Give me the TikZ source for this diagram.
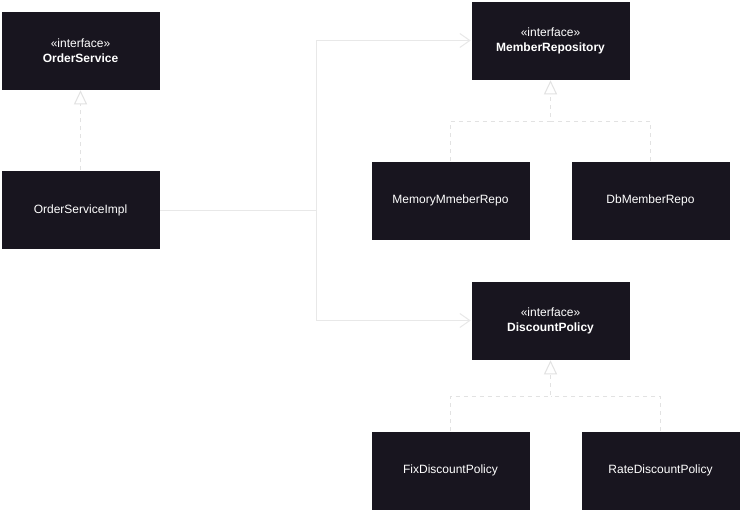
\documentclass[tikz,border=0pt]{standalone}
\usepackage{fontspec}
\setmainfont{Liberation Sans}
\usepackage{tikz}
\usetikzlibrary{arrows.meta, positioning}
\definecolor{UMLBoxDark}{RGB}{24, 21, 31}
\definecolor{UMLLine}{RGB}{232, 232, 232}
\definecolor{UMLDash}{RGB}{226, 226, 226}

\begin{document}
\begin{tikzpicture}[x=1pt,y=-1pt,
    classbox/.style={fill=UMLBoxDark, draw=white, line width=0.6pt, minimum width=159pt,
      minimum height=79pt, inner sep=0pt, text=white, align=center,
      font=\fontsize{12}{15}\selectfont},
    assoc/.style={UMLLine, line width=1pt, -{Straight Barb[length=10pt,width=14pt]}},
    realize/.style={UMLDash, line width=1pt, dash pattern=on 4pt off 4pt,
      -{Triangle[open,fill=white,length=14pt,width=13pt]}},
    realline/.style={UMLDash, line width=1pt, dash pattern=on 4pt off 4pt}]
  \path[use as bounding box, fill=white] (0,0) rectangle (741,511);

  % Interfaces
  \node[classbox] (orderSvc) at (80.5,50.5)
    {«interface»\\\textbf{OrderService}};
  \node[classbox] (memberRepo) at (550.5,40.5)
    {«interface»\\\textbf{MemberRepository}};
  \node[classbox] (discountPol) at (550.5,320.5)
    {«interface»\\\textbf{DiscountPolicy}};

  % Implementations
  \node[classbox] (orderImpl) at (80.5,210) {OrderServiceImpl};
  \node[classbox] (memoryRepo) at (450.5,200.5) {MemoryMmeberRepo};
  \node[classbox] (dbRepo) at (650.5,200.5) {DbMemberRepo};
  \node[classbox] (fixPol) at (450.5,470.5) {FixDiscountPolicy};
  \node[classbox] (ratePol) at (660.5,470.5) {RateDiscountPolicy};

  % Join points
  \coordinate (split) at (316,210);
  \coordinate (memberJoin) at (550.5,121);
  \coordinate (discountJoin) at (550.5,396);

  % Associations
  \draw[assoc] (orderImpl.east) -- (split) |- (memberRepo.west);
  \draw[assoc] (split) |- (discountPol.west);

  % Realizations
  \draw[realize] (orderImpl.north) -- (orderSvc.south);
  \draw[realize] (memoryRepo.north) |- (memberJoin) -- (memberRepo.south);
  \draw[realline] (dbRepo.north) |- (memberJoin);
  \draw[realize] (fixPol.north) |- (discountJoin) -- (discountPol.south);
  \draw[realline] (ratePol.north) |- (discountJoin);
\end{tikzpicture}
\end{document}
